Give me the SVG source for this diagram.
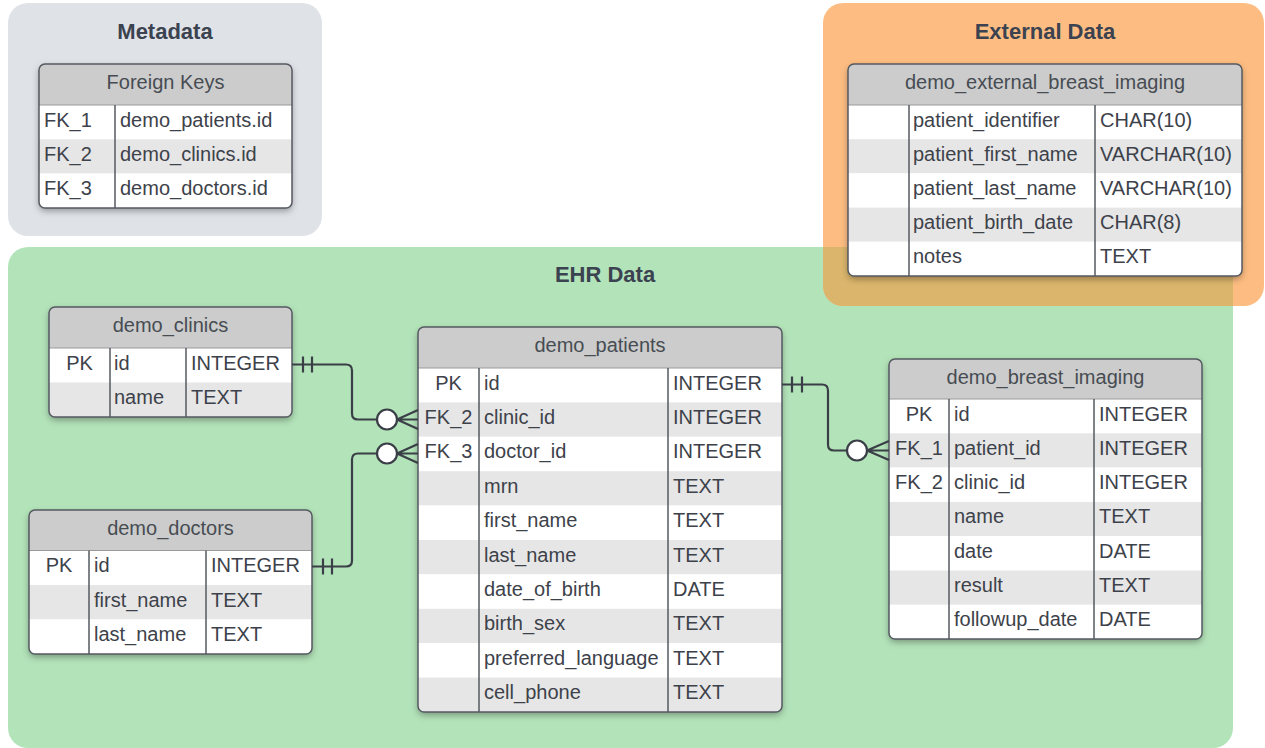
<svg xmlns="http://www.w3.org/2000/svg" width="1265" height="748" viewBox="0 0 1265 748">
<style>
.t{font-family:"Liberation Sans",Arial,sans-serif;font-size:20px;fill:#3d424a}
.h{font-family:"Liberation Sans",Arial,sans-serif;font-size:20px;fill:#474c53;text-anchor:middle}
.c{text-anchor:middle}
.title{font-family:"Liberation Sans",Arial,sans-serif;font-size:22px;font-weight:bold;fill:#3b4250;text-anchor:middle}
.hd{fill:#cccccc}
.w{fill:#ffffff}
.g{fill:#e6e6e6}
.div{stroke:#555a61;stroke-width:1.5}
.hl{stroke:#9a9a9a;stroke-width:1}
.frame{fill:none;stroke:#555a61;stroke-width:1.5}
.conn{fill:none;stroke:#3a3f47;stroke-width:2.2;stroke-linejoin:round}
.circ{fill:#ffffff;stroke:#3a3f47;stroke-width:2.2}
</style>
<defs>
<filter id="sh" x="-10%" y="-10%" width="120%" height="130%">
<feDropShadow dx="0" dy="3" stdDeviation="3.5" flood-color="#000" flood-opacity="0.35"/>
</filter>
<clipPath id="cpOrange"><rect x="823" y="3" width="441" height="303" rx="20"/></clipPath>
<clipPath id="cFK"><rect x="39" y="64" width="253" height="144" rx="6"/></clipPath>
<clipPath id="cEXT"><rect x="848" y="64" width="394" height="212" rx="6"/></clipPath>
<clipPath id="cCL"><rect x="49" y="307" width="243" height="110" rx="6"/></clipPath>
<clipPath id="cDO"><rect x="29" y="510" width="283" height="144" rx="6"/></clipPath>
<clipPath id="cPA"><rect x="418" y="327" width="364" height="385" rx="6"/></clipPath>
<clipPath id="cBI"><rect x="889" y="359" width="313" height="280" rx="6"/></clipPath>
</defs>

<rect width="1265" height="748" fill="#ffffff"/>

<g id="containers">
<rect id="metadata-area" x="8" y="3" width="314" height="233" rx="20" fill="#dfe2e7"/>
<rect id="ehr-area" x="8" y="247" width="1225" height="501" rx="20" fill="#b3e3b9"/>
<rect id="external-area" x="823" y="3" width="441" height="303" rx="20" fill="#fdbd82"/>
<rect x="8" y="247" width="1225" height="501" fill="#dbb56c" clip-path="url(#cpOrange)"/>
<text class="title" x="165" y="39">Metadata</text>
<text class="title" x="1045" y="39">External Data</text>
<text class="title" x="605" y="282">EHR Data</text>
</g>

<g id="foreign_keys">
<rect x="39" y="64" width="253" height="144" rx="6" fill="#fff" filter="url(#sh)"/>
<g clip-path="url(#cFK)">
<rect class="hd" x="39" y="64" width="253" height="41"/>
<rect class="w" x="39" y="105" width="253" height="34.3"/>
<rect class="g" x="39" y="139.3" width="253" height="34.3"/>
<rect class="w" x="39" y="173.6" width="253" height="34.4"/>
</g>
<line class="hl" x1="39" y1="105" x2="292" y2="105"/>
<line class="div" x1="115" y1="105" x2="115" y2="208"/>
<rect class="frame" x="39" y="64" width="253" height="144" rx="6"/>
<text class="h" x="165.5" y="88.5">Foreign Keys</text>
<text class="t" x="44" y="126.5">FK_1</text><text class="t" x="120" y="126.5">demo_patients.id</text>
<text class="t" x="44" y="160.8">FK_2</text><text class="t" x="120" y="160.8">demo_clinics.id</text>
<text class="t" x="44" y="195.1">FK_3</text><text class="t" x="120" y="195.1">demo_doctors.id</text>
</g>

<g id="demo_external_breast_imaging">
<rect x="848" y="64" width="394" height="212" rx="6" fill="#fff" filter="url(#sh)"/>
<g clip-path="url(#cEXT)">
<rect class="hd" x="848" y="64" width="394" height="41"/>
<rect class="w" x="848" y="105" width="394" height="34.2"/>
<rect class="g" x="848" y="139.2" width="394" height="34.2"/>
<rect class="w" x="848" y="173.4" width="394" height="34.2"/>
<rect class="g" x="848" y="207.6" width="394" height="34.2"/>
<rect class="w" x="848" y="241.8" width="394" height="34.2"/>
</g>
<line class="hl" x1="848" y1="105" x2="1242" y2="105"/>
<line class="div" x1="909" y1="105" x2="909" y2="276"/>
<line class="div" x1="1095" y1="105" x2="1095" y2="276"/>
<rect class="frame" x="848" y="64" width="394" height="212" rx="6"/>
<text class="h" x="1045" y="88.5">demo_external_breast_imaging</text>
<text class="t" x="913" y="126.5">patient_identifier</text><text class="t" x="1100" y="126.5">CHAR(10)</text>
<text class="t" x="913" y="160.7">patient_first_name</text><text class="t" x="1100" y="160.7">VARCHAR(10)</text>
<text class="t" x="913" y="194.9">patient_last_name</text><text class="t" x="1100" y="194.9">VARCHAR(10)</text>
<text class="t" x="913" y="229.1">patient_birth_date</text><text class="t" x="1100" y="229.1">CHAR(8)</text>
<text class="t" x="913" y="263.3">notes</text><text class="t" x="1100" y="263.3">TEXT</text>
</g>

<g id="demo_clinics">
<rect x="49" y="307" width="243" height="110" rx="6" fill="#fff" filter="url(#sh)"/>
<g clip-path="url(#cCL)">
<rect class="hd" x="49" y="307" width="243" height="41"/>
<rect class="w" x="49" y="348" width="243" height="34.5"/>
<rect class="g" x="49" y="382.5" width="243" height="34.5"/>
</g>
<line class="hl" x1="49" y1="348" x2="292" y2="348"/>
<line class="div" x1="110" y1="348" x2="110" y2="417"/>
<line class="div" x1="186" y1="348" x2="186" y2="417"/>
<rect class="frame" x="49" y="307" width="243" height="110" rx="6"/>
<text class="h" x="170.5" y="332">demo_clinics</text>
<text class="t c" x="79.5" y="369.5">PK</text><text class="t" x="114" y="369.5">id</text><text class="t" x="191" y="369.5">INTEGER</text>
<text class="t" x="114" y="404">name</text><text class="t" x="191" y="404">TEXT</text>
</g>

<g id="demo_doctors">
<rect x="29" y="510" width="283" height="144" rx="6" fill="#fff" filter="url(#sh)"/>
<g clip-path="url(#cDO)">
<rect class="hd" x="29" y="510" width="283" height="40.5"/>
<rect class="w" x="29" y="550.5" width="283" height="34.5"/>
<rect class="g" x="29" y="585" width="283" height="34.5"/>
<rect class="w" x="29" y="619.5" width="283" height="34.5"/>
</g>
<line class="hl" x1="29" y1="550.5" x2="312" y2="550.5"/>
<line class="div" x1="89" y1="550.5" x2="89" y2="654"/>
<line class="div" x1="206" y1="550.5" x2="206" y2="654"/>
<rect class="frame" x="29" y="510" width="283" height="144" rx="6"/>
<text class="h" x="170.5" y="534.5">demo_doctors</text>
<text class="t c" x="59" y="572">PK</text><text class="t" x="94" y="572">id</text><text class="t" x="211" y="572">INTEGER</text>
<text class="t" x="94" y="606.5">first_name</text><text class="t" x="211" y="606.5">TEXT</text>
<text class="t" x="94" y="641">last_name</text><text class="t" x="211" y="641">TEXT</text>
</g>

<g id="demo_patients">
<rect x="418" y="327" width="364" height="385" rx="6" fill="#fff" filter="url(#sh)"/>
<g clip-path="url(#cPA)">
<rect class="hd" x="418" y="327" width="364" height="41"/>
<rect class="w" x="418" y="368" width="364" height="34.4"/>
<rect class="g" x="418" y="402.4" width="364" height="34.4"/>
<rect class="w" x="418" y="436.8" width="364" height="34.4"/>
<rect class="g" x="418" y="471.2" width="364" height="34.4"/>
<rect class="w" x="418" y="505.6" width="364" height="34.4"/>
<rect class="g" x="418" y="540" width="364" height="34.4"/>
<rect class="w" x="418" y="574.4" width="364" height="34.4"/>
<rect class="g" x="418" y="608.8" width="364" height="34.4"/>
<rect class="w" x="418" y="643.2" width="364" height="34.4"/>
<rect class="g" x="418" y="677.6" width="364" height="34.4"/>
</g>
<line class="hl" x1="418" y1="368" x2="782" y2="368"/>
<line class="div" x1="479" y1="368" x2="479" y2="712"/>
<line class="div" x1="668" y1="368" x2="668" y2="712"/>
<rect class="frame" x="418" y="327" width="364" height="385" rx="6"/>
<text class="h" x="600" y="352">demo_patients</text>
<text class="t c" x="448.5" y="389.5">PK</text><text class="t" x="484" y="389.5">id</text><text class="t" x="673" y="389.5">INTEGER</text>
<text class="t c" x="448.5" y="423.9">FK_2</text><text class="t" x="484" y="423.9">clinic_id</text><text class="t" x="673" y="423.9">INTEGER</text>
<text class="t c" x="448.5" y="458.3">FK_3</text><text class="t" x="484" y="458.3">doctor_id</text><text class="t" x="673" y="458.3">INTEGER</text>
<text class="t" x="484" y="492.7">mrn</text><text class="t" x="673" y="492.7">TEXT</text>
<text class="t" x="484" y="527.1">first_name</text><text class="t" x="673" y="527.1">TEXT</text>
<text class="t" x="484" y="561.5">last_name</text><text class="t" x="673" y="561.5">TEXT</text>
<text class="t" x="484" y="595.9">date_of_birth</text><text class="t" x="673" y="595.9">DATE</text>
<text class="t" x="484" y="630.3">birth_sex</text><text class="t" x="673" y="630.3">TEXT</text>
<text class="t" x="484" y="664.7">preferred_language</text><text class="t" x="673" y="664.7">TEXT</text>
<text class="t" x="484" y="699.1">cell_phone</text><text class="t" x="673" y="699.1">TEXT</text>
</g>

<g id="demo_breast_imaging">
<rect x="889" y="359" width="313" height="280" rx="6" fill="#fff" filter="url(#sh)"/>
<g clip-path="url(#cBI)">
<rect class="hd" x="889" y="359" width="313" height="40"/>
<rect class="w" x="889" y="399" width="313" height="34.3"/>
<rect class="g" x="889" y="433.3" width="313" height="34.3"/>
<rect class="w" x="889" y="467.6" width="313" height="34.3"/>
<rect class="g" x="889" y="501.9" width="313" height="34.3"/>
<rect class="w" x="889" y="536.2" width="313" height="34.3"/>
<rect class="g" x="889" y="570.5" width="313" height="34.3"/>
<rect class="w" x="889" y="604.8" width="313" height="34.2"/>
</g>
<line class="hl" x1="889" y1="399" x2="1202" y2="399"/>
<line class="div" x1="949" y1="399" x2="949" y2="639"/>
<line class="div" x1="1094" y1="399" x2="1094" y2="639"/>
<rect class="frame" x="889" y="359" width="313" height="280" rx="6"/>
<text class="h" x="1045.5" y="383.5">demo_breast_imaging</text>
<text class="t c" x="919" y="420.5">PK</text><text class="t" x="954" y="420.5">id</text><text class="t" x="1099" y="420.5">INTEGER</text>
<text class="t c" x="919" y="454.8">FK_1</text><text class="t" x="954" y="454.8">patient_id</text><text class="t" x="1099" y="454.8">INTEGER</text>
<text class="t c" x="919" y="489.1">FK_2</text><text class="t" x="954" y="489.1">clinic_id</text><text class="t" x="1099" y="489.1">INTEGER</text>
<text class="t" x="954" y="523.4">name</text><text class="t" x="1099" y="523.4">TEXT</text>
<text class="t" x="954" y="557.7">date</text><text class="t" x="1099" y="557.7">DATE</text>
<text class="t" x="954" y="592">result</text><text class="t" x="1099" y="592">TEXT</text>
<text class="t" x="954" y="626.3">followup_date</text><text class="t" x="1099" y="626.3">DATE</text>
</g>

<g id="connectors">
<!-- clinics.id -> patients.clinic_id -->
<path class="conn" d="M292,364.5 H346 Q352,364.5 352,370.5 V413.5 Q352,419.5 358,419.5 H377"/>
<line class="conn" x1="303" y1="356.5" x2="303" y2="372.5"/>
<line class="conn" x1="312" y1="356.5" x2="312" y2="372.5"/>
<path class="conn" d="M418,410 L397,419.5 L418,429 M397,419.5 H418"/>
<circle class="circ" cx="387" cy="419.5" r="10"/>
<!-- doctors.id -> patients.doctor_id -->
<path class="conn" d="M312,566.5 H346 Q352,566.5 352,560.5 V459.5 Q352,453.5 358,453.5 H377"/>
<line class="conn" x1="323" y1="558.5" x2="323" y2="574.5"/>
<line class="conn" x1="332" y1="558.5" x2="332" y2="574.5"/>
<path class="conn" d="M418,444 L397,453.5 L418,463 M397,453.5 H418"/>
<circle class="circ" cx="387" cy="453.5" r="10"/>
<!-- patients.id -> breast_imaging.patient_id -->
<path class="conn" d="M782,384.5 H822 Q828,384.5 828,390.5 V444.5 Q828,450.5 834,450.5 H847"/>
<line class="conn" x1="792" y1="376.5" x2="792" y2="392.5"/>
<line class="conn" x1="802" y1="376.5" x2="802" y2="392.5"/>
<path class="conn" d="M889,441 L867,450.5 L889,460 M867,450.5 H889"/>
<circle class="circ" cx="857" cy="450.5" r="10"/>
</g>
</svg>
